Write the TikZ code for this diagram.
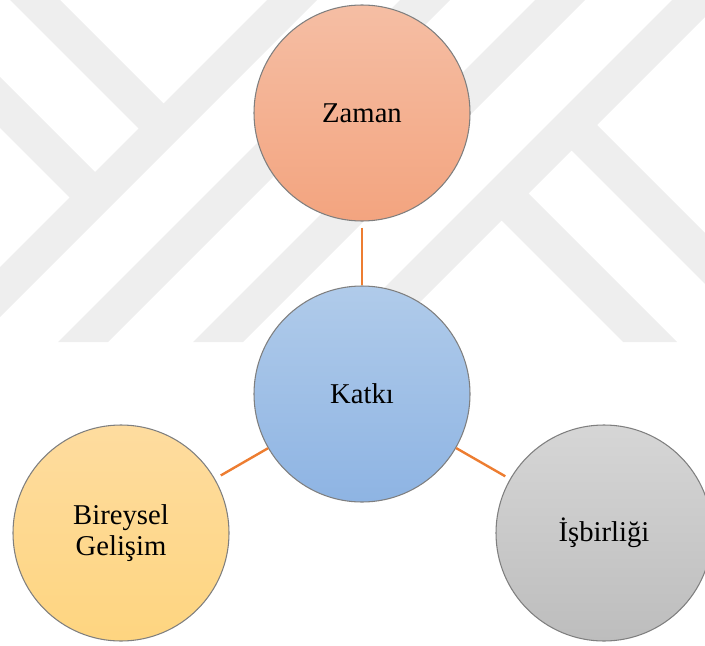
\documentclass[tikz,border=0pt]{standalone}
\usepackage{fontspec}
\setmainfont{Liberation Serif}
\usepackage{tikz}
\tikzset{every node/.style={font=\fontsize{21.5}{23}\selectfont}}
\definecolor{linkcol}{HTML}{ED7D31}
\definecolor{rimcol}{HTML}{7F7F7F}
\definecolor{markcol}{HTML}{EEEEEE}
\definecolor{zamantop}{HTML}{F5BEA4}
\definecolor{zamanbot}{HTML}{F3A47F}
\definecolor{katkitop}{HTML}{B0CBEA}
\definecolor{katkibot}{HTML}{8EB4E3}
\definecolor{bireyseltop}{HTML}{FEDC9F}
\definecolor{bireyselbot}{HTML}{FED580}
\definecolor{isbirtop}{HTML}{D6D6D6}
\definecolor{isbirbot}{HTML}{BDBDBD}
\tikzset{
  bubble/.style={circle, draw=rimcol, line width=0.8pt, minimum size=162pt,
    inner sep=0pt, align=center},
  link/.style={draw=linkcol, line width=1.8pt}
}

\begin{document}
\begin{tikzpicture}[x=0.75pt, y=-0.75pt]

  \useasboundingbox (0,0) rectangle (705,645);

  % Faint watermark bands behind the circles.
  \begin{scope}
    \clip (0,0) rectangle (705,342);
    \foreach \s in {267,400,535,672} {
      \fill[markcol] (\s,0) -- (\s+50,0) -- (\s-292,342) -- (\s-342,342) -- cycle;
    }
    \fill[markcol] (10,0) -- (60,0) -- (175,115) -- (150,140) -- cycle;
    \fill[markcol] (-10,67) -- (-10,118) -- (81,209) -- (106.5,183.5) -- cycle;
    \fill[markcol] (586,114) -- (720,248) -- (720,299) -- (560.5,139.5) -- cycle;
    \fill[markcol] (517.5,182.5) -- (677,342) -- (623,342) -- (490.5,209.5) -- cycle;
  \end{scope}

  % Circles.
  \node[bubble, top color=zamantop, bottom color=zamanbot] (zaman) at (362,113) {Zaman};
  \node[bubble, top color=katkitop, bottom color=katkibot] (katki) at (362,394) {Katkı};
  \node[bubble, top color=bireyseltop, bottom color=bireyselbot] (bireysel) at (121,533)
    {Bireysel\\Gelişim};
  \node[bubble, top color=isbirtop, bottom color=isbirbot] (isbirligi) at (604,533) {İşbirliği};

  % Links to the centre.
  \draw[link, shorten <=4.5pt] (zaman) -- (katki);
  \draw[link, shorten >=5pt] (katki) -- (bireysel);
  \draw[link, shorten >=4pt] (katki) -- (isbirligi);

\end{tikzpicture}
\end{document}
